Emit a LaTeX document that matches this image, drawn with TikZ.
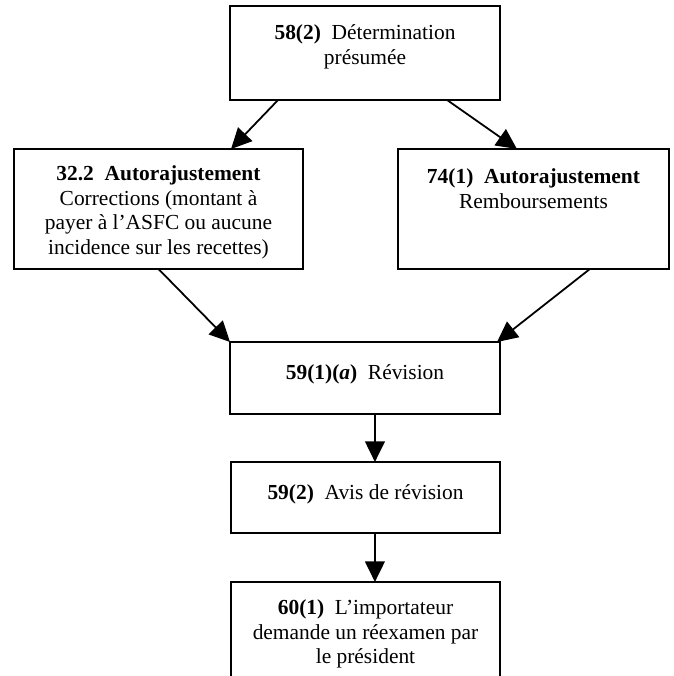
\documentclass[tikz,border=0pt]{standalone}
\usepackage{fontspec}
\setmainfont{Liberation Serif}
\usetikzlibrary{arrows.meta,calc}
\def\pxu{0.56pt}
\tikzset{
  box/.style={draw, line width=1.2pt, rectangle, inner sep=0pt, outer sep=0pt},
  openbox/.style={rectangle, inner sep=0pt, outer sep=0pt},
  txt/.style={anchor=north, align=center, inner sep=0pt, font=\fontsize{12}{13.8}\selectfont},
  arr/.style={line width=1pt, -{Triangle[length=11.5pt,width=11pt]}},
}
\begin{document}
\begin{tikzpicture}[x=0.56pt,y=-0.56pt]
\useasboundingbox (0,0) rectangle (673,676);
% boxes
\node[box, minimum width=270*\pxu, minimum height=94*\pxu] (A) at (365,53) {};
\node[box, minimum width=289*\pxu, minimum height=120*\pxu] (B) at (158.5,209) {};
\node[box, minimum width=271*\pxu, minimum height=120*\pxu] (C) at (533.5,209) {};
\node[box, minimum width=270*\pxu, minimum height=72*\pxu] (D) at (365,378) {};
\node[box, minimum width=269*\pxu, minimum height=71*\pxu] (E) at (365.5,497.5) {};
\node[openbox, minimum width=269*\pxu, minimum height=94*\pxu] (F) at (365.5,629) {};
\draw[line width=1.2pt] (F.south west) -- (F.north west) -- (F.north east) -- (F.south east);
% texts
\node[txt] (At) at ([yshift=-16*\pxu]A.north) {\strut\textbf{58(2)}~~Détermination\\présumée};
\node[txt] (Bt) at ([yshift=-14*\pxu]B.north) {\strut\textbf{32.2~~Autorajustement}\\Corrections (montant à\\payer à l’ASFC ou aucune\\incidence sur les recettes)};
\node[txt] (Ct) at ([yshift=-17*\pxu]C.north) {\strut\textbf{74(1)~~Autorajustement}\\Remboursements};
\node[txt] (Dt) at ([yshift=-20*\pxu]D.north) {\strut\textbf{59(1)(\textit{a})}~~Révision};
\node[txt] (Et) at ([yshift=-20*\pxu]E.north) {\strut\textbf{59(2)}~~Avis de révision};
\node[txt] (Ft) at ([yshift=-15*\pxu]F.north) {\strut\textbf{60(1)}~~L’importateur\\demande un réexamen par\\le président};
% connectors
\draw[arr] ($(A.south west)!0.178!(A.south east)$) -- ($(B.north west)!0.751!(B.north east)$);
\draw[arr] ($(A.south west)!0.804!(A.south east)$) -- ($(C.north west)!0.439!(C.north east)$);
\draw[arr] (B.south) -- (D.north west);
\draw[arr] ($(C.south west)!0.708!(C.south east)$) -- ($(D.north west)!0.989!(D.north east)$);
\draw[arr] ($(D.south west)!0.537!(D.south east)$) -- ($(E.north west)!0.535!(E.north east)$);
\draw[arr] ($(E.south west)!0.535!(E.south east)$) -- ($(F.north west)!0.535!(F.north east)$);
\end{tikzpicture}
\end{document}
